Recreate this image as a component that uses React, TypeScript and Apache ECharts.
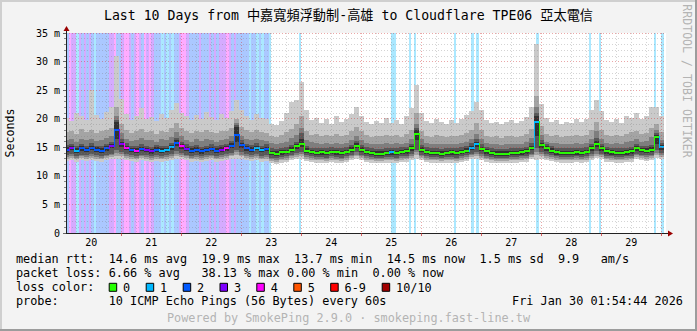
import React, { useEffect, useRef } from 'react';
import * as echarts from 'echarts';

// ---- time axis (hours since Jan 20 00:00) ----
const START_HOUR = 1.912; // Jan 20 01:54:44
const END_HOUR = 241.912; // Jan 30 01:54:44
const dayLabels = ['20', '21', '22', '23', '24', '25', '26', '27', '28', '29'];
const yTickLabels = ['0', '5 m', '10 m', '15 m', '20 m', '25 m', '30 m', '35 m'];

// sample times: every 2 hours (t = 2 .. 240)
const sampleHours: number[] = [];
for (let k = 1; k <= 120; k++) sampleHours.push(2 * k);

// ---- median rtt (ms) ----
const median = [
  14.6, 14.9, 14.4, 14.8, 14.5, 14.9, 14.6, 14.4, 14.8, 15.3, 18.0,
  15.6, 14.9, 14.6, 14.4, 14.7, 14.5, 14.3, 14.6, 14.4, 14.5, 15.0, 15.8,
  15.2, 14.7, 14.4, 14.6, 14.3, 14.5, 14.7, 14.4, 14.6, 14.8, 15.3, 17.2,
  15.4, 14.8, 14.6, 14.9, 14.5, 14.7, 14.0, 13.9, 14.1, 14.2, 14.6, 15.2,
  15.6, 14.4, 14.2, 14.0, 14.1, 14.0, 14.2, 14.1, 14.0, 14.2, 14.6, 15.3,
  14.6, 14.2, 14.0, 13.9, 13.9, 14.0, 14.1, 14.0, 14.2, 14.3, 14.8, 17.4,
  14.6, 14.2, 14.0, 14.0, 13.9, 14.0, 14.1, 14.0, 14.2, 14.4, 14.9, 15.5,
  14.7, 14.3, 14.0, 13.9, 13.9, 13.9, 14.0, 14.0, 14.1, 14.3, 14.9, 19.5,
  15.4, 14.8, 14.4, 14.1, 14.0, 14.0, 14.0, 14.1, 14.0, 14.2, 14.8, 15.6,
  14.8, 14.3, 14.1, 14.0, 14.0, 14.1, 14.3, 14.8, 14.5, 14.4, 14.6, 16.8,
  15.0,
];

// ---- smoke: sorted pings 1..10 (ms) ----
const ping10 = [
  20.2, 19.6, 21.0, 20.4, 19.8, 25.0, 20.6, 19.9, 21.2, 22.0, 31.0,
  23.5, 20.8, 19.7, 20.5, 21.8, 19.9, 20.3, 19.6, 20.9, 20.2, 21.5, 22.7,
  21.0, 20.4, 19.8, 20.6, 19.9, 21.2, 20.3, 19.7, 20.8, 20.1, 21.4, 23.3,
  21.6, 20.5, 19.8, 20.9, 20.2, 19.9, 19.0, 18.9, 19.6, 21.0, 23.0, 23.3,
  26.5, 21.5, 19.8, 20.2, 19.3, 19.9, 19.1, 20.4, 19.5, 20.0, 20.8, 22.1,
  20.5, 19.4, 19.0, 19.6, 19.2, 20.1, 19.3, 19.8, 19.0, 20.4, 21.8, 25.9,
  21.0, 19.6, 19.2, 20.0, 19.4, 19.0, 19.7, 19.3, 19.9, 20.6, 21.3, 23.0,
  21.6, 19.8, 19.2, 19.5, 19.0, 19.4, 19.8, 19.2, 19.6, 20.3, 22.0, 33.0,
  22.5, 20.1, 19.4, 19.7, 19.1, 19.5, 19.2, 19.9, 19.4, 20.0, 21.5, 23.3,
  21.3, 19.7, 19.4, 19.9, 19.3, 20.5, 20.2, 21.0, 20.0, 20.4, 22.0, 22.1,
  20.5,
];
const ping9 = [
  17.6, 17.9, 17.4, 18.2, 17.7, 18.0, 17.5, 17.8, 18.1, 18.4, 22.0,
  19.0, 18.0, 17.5, 17.9, 18.2, 17.6, 17.8, 17.4, 17.9, 17.7, 18.3, 19.2,
  18.4, 17.8, 17.5, 17.9, 17.6, 18.1, 17.7, 17.5, 17.9, 17.8, 18.4, 20.0,
  18.6, 18.0, 17.6, 18.0, 17.7, 17.5, 17.0, 16.8, 17.2, 17.6, 18.2, 19.0,
  20.5, 17.8, 17.2, 17.3, 17.0, 17.2, 16.9, 17.3, 17.0, 17.2, 17.8, 18.6,
  17.8, 17.1, 16.8, 17.0, 16.9, 17.2, 16.9, 17.1, 16.8, 17.3, 18.0, 21.0,
  17.9, 17.0, 16.8, 17.1, 16.9, 16.8, 17.0, 16.9, 17.1, 17.5, 18.0, 19.2,
  18.0, 17.0, 16.8, 16.9, 16.7, 16.9, 17.0, 16.8, 17.0, 17.3, 18.2, 24.0,
  18.8, 17.4, 17.0, 17.1, 16.8, 17.0, 16.9, 17.1, 16.9, 17.2, 18.0, 19.5,
  18.0, 17.2, 17.0, 17.2, 16.9, 17.4, 17.6, 17.8, 17.3, 17.5, 18.3, 19.0,
  17.6,
];
const ping8 = [
  16.2, 16.4, 16.0, 16.5, 16.2, 16.5, 16.1, 16.3, 16.6, 16.9, 20.5,
  17.5, 16.5, 16.1, 16.3, 16.6, 16.2, 16.3, 16.0, 16.4, 16.2, 16.8, 17.6,
  16.9, 16.3, 16.0, 16.4, 16.1, 16.5, 16.2, 16.0, 16.3, 16.4, 16.9, 19.3,
  17.0, 16.5, 16.2, 16.5, 16.2, 16.1, 15.7, 15.5, 15.8, 16.0, 16.6, 17.2,
  18.4, 16.3, 15.9, 15.8, 15.6, 15.8, 15.6, 15.8, 15.6, 15.8, 16.3, 17.0,
  16.3, 15.8, 15.5, 15.6, 15.5, 15.7, 15.6, 15.7, 15.5, 15.8, 16.4, 19.0,
  16.4, 15.7, 15.5, 15.6, 15.5, 15.5, 15.6, 15.5, 15.7, 16.0, 16.5, 17.4,
  16.5, 15.7, 15.5, 15.5, 15.4, 15.5, 15.6, 15.5, 15.6, 15.9, 16.6, 22.0,
  17.2, 16.0, 15.7, 15.7, 15.5, 15.6, 15.5, 15.7, 15.5, 15.8, 16.5, 17.8,
  16.5, 15.8, 15.6, 15.7, 15.5, 15.9, 16.1, 16.4, 16.0, 16.1, 16.8, 18.0,
  16.3,
];
const ping7 = [
  15.4, 15.6, 15.2, 15.6, 15.3, 15.7, 15.3, 15.2, 15.6, 16.0, 19.8,
  16.5, 15.7, 15.3, 15.2, 15.5, 15.3, 15.1, 15.4, 15.2, 15.3, 15.8, 16.7,
  16.0, 15.5, 15.2, 15.4, 15.1, 15.3, 15.5, 15.2, 15.4, 15.6, 16.1, 18.9,
  16.2, 15.6, 15.4, 15.7, 15.3, 15.5, 14.8, 14.7, 14.9, 15.0, 15.4, 16.0,
  17.5, 15.2, 14.9, 14.8, 14.9, 14.8, 15.0, 14.9, 14.8, 15.0, 15.4, 16.1,
  15.4, 15.0, 14.8, 14.7, 14.7, 14.8, 14.9, 14.8, 15.0, 15.1, 15.6, 18.4,
  15.4, 15.0, 14.8, 14.8, 14.7, 14.8, 14.9, 14.8, 15.0, 15.2, 15.7, 16.4,
  15.5, 15.1, 14.8, 14.7, 14.7, 14.7, 14.8, 14.8, 14.9, 15.1, 15.7, 21.0,
  16.3, 15.6, 15.2, 14.9, 14.8, 14.8, 14.8, 14.9, 14.8, 15.0, 15.6, 16.6,
  15.6, 15.1, 14.9, 14.8, 14.8, 14.9, 15.1, 15.6, 15.3, 15.2, 15.4, 17.5,
  15.7,
];
const ping6 = [
  15.0, 15.3, 14.8, 15.2, 14.9, 15.3, 15.0, 14.8, 15.2, 15.6, 19.5,
  16.0, 15.3, 14.9, 14.8, 15.1, 14.9, 14.7, 15.0, 14.8, 14.9, 15.4, 16.2,
  15.6, 15.1, 14.8, 15.0, 14.7, 14.9, 15.1, 14.8, 15.0, 15.2, 15.7, 18.5,
  15.8, 15.2, 15.0, 15.3, 14.9, 15.1, 14.4, 14.3, 14.5, 14.6, 15.0, 15.6,
  16.5, 14.8, 14.6, 14.4, 14.5, 14.4, 14.6, 14.5, 14.4, 14.6, 15.0, 15.7,
  15.0, 14.6, 14.4, 14.3, 14.3, 14.4, 14.5, 14.4, 14.6, 14.7, 15.2, 18.0,
  15.0, 14.6, 14.4, 14.4, 14.3, 14.4, 14.5, 14.4, 14.6, 14.8, 15.3, 16.0,
  15.1, 14.7, 14.4, 14.3, 14.3, 14.3, 14.4, 14.4, 14.5, 14.7, 15.3, 20.5,
  15.8, 15.2, 14.8, 14.5, 14.4, 14.4, 14.4, 14.5, 14.4, 14.6, 15.2, 16.1,
  15.2, 14.7, 14.5, 14.4, 14.4, 14.5, 14.7, 15.2, 14.9, 14.8, 15.0, 17.2,
  15.4,
];
const ping5 = [
  14.2, 14.5, 14.0, 14.4, 14.1, 14.5, 14.2, 14.0, 14.4, 14.8, 16.5,
  15.0, 14.5, 14.2, 14.0, 14.3, 14.1, 13.9, 14.2, 14.0, 14.1, 14.6, 15.2,
  14.7, 14.3, 14.0, 14.2, 13.9, 14.1, 14.3, 14.0, 14.2, 14.4, 14.8, 16.0,
  14.9, 14.4, 14.2, 14.5, 14.1, 14.3, 13.6, 13.5, 13.7, 13.8, 14.2, 14.7,
  15.0, 14.0, 13.8, 13.6, 13.7, 13.6, 13.8, 13.7, 13.6, 13.8, 14.2, 14.8,
  14.2, 13.8, 13.6, 13.5, 13.5, 13.6, 13.7, 13.6, 13.8, 13.9, 14.4, 16.2,
  14.2, 13.8, 13.6, 13.6, 13.5, 13.6, 13.7, 13.6, 13.8, 14.0, 14.5, 15.0,
  14.3, 13.9, 13.6, 13.5, 13.5, 13.5, 13.6, 13.6, 13.7, 13.9, 14.5, 17.0,
  14.9, 14.4, 14.0, 13.7, 13.6, 13.6, 13.6, 13.7, 13.6, 13.8, 14.4, 15.1,
  14.4, 13.9, 13.7, 13.6, 13.6, 13.7, 13.9, 14.4, 14.1, 14.0, 14.2, 15.5,
  14.6,
];
const ping4 = [
  13.6, 13.8, 13.5, 13.7, 13.6, 13.8, 13.6, 13.5, 13.7, 13.9, 14.5,
  14.2, 13.8, 13.6, 13.5, 13.7, 13.6, 13.4, 13.6, 13.5, 13.6, 13.9, 14.3,
  14.0, 13.7, 13.5, 13.6, 13.4, 13.6, 13.7, 13.5, 13.6, 13.8, 14.0, 14.6,
  14.1, 13.8, 13.6, 13.8, 13.5, 13.6, 13.2, 13.1, 13.3, 13.4, 13.7, 14.0,
  14.2, 13.6, 13.4, 13.3, 13.3, 13.2, 13.4, 13.3, 13.2, 13.4, 13.7, 14.1,
  13.7, 13.4, 13.3, 13.2, 13.2, 13.3, 13.3, 13.2, 13.4, 13.5, 13.8, 14.6,
  13.7, 13.4, 13.3, 13.3, 13.2, 13.3, 13.3, 13.2, 13.4, 13.6, 13.9, 14.2,
  13.8, 13.5, 13.3, 13.2, 13.2, 13.2, 13.3, 13.3, 13.4, 13.5, 13.9, 14.8,
  14.2, 13.9, 13.6, 13.4, 13.3, 13.3, 13.3, 13.4, 13.3, 13.4, 13.8, 14.3,
  13.9, 13.5, 13.4, 13.3, 13.3, 13.4, 13.5, 13.9, 13.7, 13.6, 13.7, 14.5,
  14.0,
];
const ping3 = [
  13.3, 13.5, 13.2, 13.4, 13.3, 13.5, 13.3, 13.2, 13.4, 13.6, 14.0,
  13.8, 13.5, 13.3, 13.2, 13.4, 13.3, 13.1, 13.3, 13.2, 13.3, 13.5, 13.9,
  13.6, 13.4, 13.2, 13.3, 13.1, 13.3, 13.4, 13.2, 13.3, 13.5, 13.7, 14.1,
  13.7, 13.5, 13.3, 13.5, 13.2, 13.3, 12.9, 12.8, 13.0, 13.1, 13.4, 13.6,
  13.8, 13.3, 13.1, 13.0, 13.0, 12.9, 13.1, 13.0, 12.9, 13.1, 13.4, 13.7,
  13.4, 13.1, 13.0, 12.9, 12.9, 13.0, 13.0, 12.9, 13.1, 13.2, 13.5, 14.1,
  13.4, 13.1, 13.0, 13.0, 12.9, 13.0, 13.0, 12.9, 13.1, 13.3, 13.6, 13.8,
  13.5, 13.2, 13.0, 12.9, 12.9, 12.9, 13.0, 13.0, 13.1, 13.2, 13.6, 14.2,
  13.8, 13.5, 13.3, 13.1, 13.0, 13.0, 13.0, 13.1, 13.0, 13.1, 13.5, 13.9,
  13.6, 13.2, 13.1, 13.0, 13.0, 13.1, 13.2, 13.6, 13.4, 13.3, 13.4, 14.0,
  13.6,
];
const ping2 = [
  13.0, 13.2, 12.9, 13.1, 13.0, 13.2, 13.0, 12.9, 13.1, 13.3, 13.5,
  13.4, 13.2, 13.0, 12.9, 13.1, 13.0, 12.8, 13.0, 12.9, 13.0, 13.2, 13.5,
  13.3, 13.1, 12.9, 13.0, 12.8, 13.0, 13.1, 12.9, 13.0, 13.2, 13.4, 13.6,
  13.4, 13.2, 13.0, 13.2, 12.9, 13.0, 12.6, 12.5, 12.7, 12.8, 13.1, 13.3,
  13.4, 13.0, 12.8, 12.7, 12.7, 12.6, 12.8, 12.7, 12.6, 12.8, 13.1, 13.4,
  13.1, 12.8, 12.7, 12.6, 12.6, 12.7, 12.7, 12.6, 12.8, 12.9, 13.2, 13.6,
  13.1, 12.8, 12.7, 12.7, 12.6, 12.7, 12.7, 12.6, 12.8, 13.0, 13.3, 13.4,
  13.2, 12.9, 12.7, 12.6, 12.6, 12.6, 12.7, 12.7, 12.8, 12.9, 13.3, 13.6,
  13.4, 13.2, 13.0, 12.8, 12.7, 12.7, 12.7, 12.8, 12.7, 12.8, 13.2, 13.5,
  13.3, 12.9, 12.8, 12.7, 12.7, 12.8, 12.9, 13.3, 13.1, 13.0, 13.1, 13.6,
  13.3,
];
const ping1 = [
  12.6, 12.8, 12.5, 12.7, 12.6, 12.8, 12.6, 12.5, 12.7, 12.9, 13.0,
  13.0, 12.8, 12.6, 12.5, 12.7, 12.6, 12.4, 12.6, 12.5, 12.6, 12.8, 13.0,
  12.9, 12.7, 12.5, 12.6, 12.4, 12.6, 12.7, 12.5, 12.6, 12.8, 13.0, 12.9,
  13.0, 12.8, 12.6, 12.8, 12.5, 12.6, 12.2, 12.1, 12.3, 12.4, 12.7, 12.9,
  12.9, 12.6, 12.4, 12.3, 12.3, 12.2, 12.4, 12.3, 12.2, 12.4, 12.7, 13.0,
  12.7, 12.4, 12.3, 12.2, 12.2, 12.3, 12.3, 12.2, 12.4, 12.5, 12.8, 12.9,
  12.7, 12.4, 12.3, 12.3, 12.2, 12.3, 12.3, 12.2, 12.4, 12.6, 12.9, 13.0,
  12.8, 12.5, 12.3, 12.2, 12.2, 12.2, 12.3, 12.3, 12.4, 12.5, 12.9, 12.8,
  13.0, 12.8, 12.6, 12.4, 12.3, 12.3, 12.3, 12.4, 12.3, 12.4, 12.8, 13.1,
  12.9, 12.5, 12.4, 12.3, 12.3, 12.4, 12.5, 12.9, 12.7, 12.6, 12.7, 13.1,
  12.9,
];

// ---- lost pings out of 10, per hour (hour 0 = Jan 20 00:00) ----
const lossHourly = [
  0, 0, 2, 4, 3, 3, 1, 3, 2, 3, 2, 3, 2, 1, 2, 2, 2, 2, 2, 3, 3, 4, 2, 2,
  3, 4, 4, 3, 2, 3, 4, 3, 2, 4, 3, 4, 3, 2, 2, 2, 1, 2, 1, 2, 1, 2, 2, 3,
  4, 4, 3, 2, 2, 2, 2, 3, 2, 2, 2, 3, 2, 3, 2, 3, 3, 3, 4, 3, 2, 3, 2, 2,
  2, 2, 2, 1, 2, 2, 1, 2, 1, 2, 2, 1, 0, 0, 0, 0, 0, 0, 0, 0, 0, 0, 0, 1,
  0, 0, 0, 0, 0, 0, 0, 0, 0, 0, 0, 0, 0, 0, 0, 0, 0, 0, 0, 0, 0, 0, 0, 0,
  0, 0, 0, 0, 0, 0, 0, 0, 0, 0, 0, 0, 1, 1, 0, 0, 0, 0, 0, 1, 0, 1, 0, 0,
  0, 0, 0, 0, 0, 0, 0, 0, 0, 0, 0, 0, 0, 1, 0, 0, 0, 0, 0, 0, 1, 0, 1, 0,
  0, 0, 0, 0, 0, 0, 0, 0, 0, 0, 0, 0, 0, 0, 0, 0, 0, 0, 0, 0, 0, 0, 1, 0,
  0, 0, 0, 0, 0, 0, 0, 0, 0, 0, 0, 0, 0, 0, 0, 0, 0, 0, 0, 1, 0, 0, 0, 1,
  0, 0, 0, 0, 0, 0, 0, 0, 0, 0, 0, 0, 0, 0, 0, 0, 0, 0, 0, 0, 0, 1, 0, 0,
  1, 0,
];

// ---- legend ----
const lossLegendLabels = ['0', '1', '2', '3', '4', '5', '6-9', '10/10'];
const lossLegendColors = ['#26ff00', '#00b8ff', '#0059ff', '#7e00ff', '#ff00ff', '#ff5500', '#ff0000', '#a10000'];
const rttStats = ['14.6 ms avg', '19.9 ms max', '13.7 ms min', '14.5 ms now', '1.5 ms sd', '9.9', 'am/s'];
const lossStats = ['6.66 % avg', '38.13 % max', '0.00 % min', '0.00 % now'];
const probeText = '10 ICMP Echo Pings (56 Bytes) every 60s';
const dateText = 'Fri Jan 30 01:54:44 2026';
const titleText = 'Last 10 Days from 中嘉寬頻浮動制-高雄 to Cloudflare TPE06 亞太電信';
const poweredText = 'Powered by SmokePing 2.9.0 · smokeping.fast-line.tw';

function lossColor(n: number): string {
  if (n <= 0) return lossLegendColors[0];
  if (n <= 5) return lossLegendColors[n];
  if (n <= 9) return lossLegendColors[6];
  return lossLegendColors[7];
}

const SMOKE = ['#cacaca', '#a4a4a4', '#7e7e7e', '#585858', '#323232'];
const MONO = '"DejaVu Sans Mono", monospace';
const CH = 7.13; // monospace legend column width
const LX = 16; // legend left edge
const col = (c: number) => LX + c * CH;

function buildOption(): any {
  const pings = [ping1, ping2, ping3, ping4, ping5, ping6, ping7, ping8, ping9, ping10];
  const smokeData = sampleHours.map((t, i) => [
    t, ...pings.map((p) => p[i]), median[i], lossHourly[t] ?? 0,
  ]);
  const lossData = lossHourly.map((l, h) => [h, l]).filter((d) => d[1] > 0);

  const noons = dayLabels.map((_, i) => i * 24 + 12);
  const midnights: number[] = [];
  const sixHours: number[] = [];
  for (let h = 6; h < END_HOUR; h += 6) {
    if (h % 24 === 0) midnights.push(h);
    else sixHours.push(h);
  }

  const majorGrid = { color: 'rgba(205,45,45,0.42)', type: [1, 2], width: 1 };
  const minorGrid = { color: 'rgba(120,120,120,0.32)', type: [1, 2], width: 1 };

  const txt = (x: number, y: number, text: string, o: any = {}) => ({
    type: 'text',
    x,
    y,
    rotation: o.rotation || 0,
    silent: true,
    z: 20,
    style: {
      text,
      fill: o.fill || '#000',
      font: `${o.size || 11.84}px ${o.family || MONO}`,
      textAlign: o.align || 'left',
      align: o.align || 'left',
      textVerticalAlign: 'middle',
      verticalAlign: 'middle',
    },
  });

  const graphics: any[] = [];
  // frame
  graphics.push({ type: 'rect', shape: { x: 0, y: 0, width: 697, height: 2 }, style: { fill: '#cfcfcf' }, silent: true, z: 20 });
  graphics.push({ type: 'rect', shape: { x: 0, y: 0, width: 2, height: 331 }, style: { fill: '#cfcfcf' }, silent: true, z: 20 });
  graphics.push({ type: 'rect', shape: { x: 0, y: 329, width: 697, height: 2 }, style: { fill: '#9c9c9c' }, silent: true, z: 20 });
  graphics.push({ type: 'rect', shape: { x: 695, y: 0, width: 2, height: 331 }, style: { fill: '#9c9c9c' }, silent: true, z: 20 });
  // axis arrows
  graphics.push({ type: 'line', shape: { x1: 66.5, y1: 33, x2: 66.5, y2: 30 }, style: { stroke: '#222', lineWidth: 1 }, silent: true, z: 20 });
  graphics.push({ type: 'polygon', shape: { points: [[63.5, 31], [69.5, 31], [66.5, 26]] }, style: { fill: '#9a0000' }, silent: true, z: 20 });
  graphics.push({ type: 'line', shape: { x1: 666, y1: 233.5, x2: 669, y2: 233.5 }, style: { stroke: '#222', lineWidth: 1 }, silent: true, z: 20 });
  graphics.push({ type: 'polygon', shape: { points: [[668, 230.5], [668, 236.5], [673, 233.5]] }, style: { fill: '#9a0000' }, silent: true, z: 20 });

  // title and side texts
  graphics.push(txt(348.5, 15, titleText, { align: 'center', size: 13.2, family: '"DejaVu Sans Mono", "Noto Sans CJK TC", monospace' }));
  graphics.push(txt(10, 133, 'Seconds', { align: 'center', rotation: Math.PI / 2, size: 11.6 }));
  graphics.push(txt(686.5, 81, 'RRDTOOL / TOBI OETIKER', { align: 'center', rotation: -Math.PI / 2, fill: '#b4b4b4', size: 11.6 }));

  // legend rows (monospace columns)
  const rttCols = [13, 26, 39, 52, 65, 76, 82];
  graphics.push(txt(col(0), 259, 'median rtt:'));
  rttStats.forEach((s, i) => graphics.push(txt(col(rttCols[i]), 259, s)));
  const lossCols = [13, 26, 38, 50];
  graphics.push(txt(col(0), 273.3, 'packet loss:'));
  lossStats.forEach((s, i) => graphics.push(txt(col(lossCols[i]), 273.3, s)));
  graphics.push(txt(col(0), 287.3, 'loss color:'));
  const boxX = [108.7, 145.7, 182.7, 219.5, 256.3, 293.3, 330.2, 381.7];
  lossLegendLabels.forEach((lab, i) => {
    graphics.push({
      type: 'rect',
      shape: { x: boxX[i] + 0.5, y: 283.3, width: 7.5, height: 8 },
      style: { fill: lossLegendColors[i], stroke: '#000', lineWidth: 1 },
      silent: true,
      z: 20,
    });
    graphics.push(txt(boxX[i] + 14.4, 287.5, lab));
  });
  graphics.push(txt(col(0), 301, 'probe:'));
  graphics.push(txt(col(13), 301, probeText));
  graphics.push(txt(683, 301, dateText, { align: 'right' }));
  graphics.push(txt(348.5, 317.7, poweredText, { align: 'center', fill: '#b4b4b4' }));

  return {
    animation: false,
    backgroundColor: '#f3f3f3',
    grid: { left: 66, right: 31, top: 33, bottom: 98, show: true, backgroundColor: '#ffffff', borderWidth: 0 },
    xAxis: [
      {
        type: 'value',
        min: START_HOUR,
        max: END_HOUR,
        position: 'bottom',
        z: 6,
        axisLine: { show: true, onZero: false, lineStyle: { color: '#222', width: 1 } },
        axisTick: { show: true, customValues: midnights, length: 3, lineStyle: { color: 'rgba(200,40,40,0.7)' } },
        axisLabel: {
          show: true,
          customValues: noons,
          margin: 4,
          fontFamily: MONO,
          fontSize: 10,
          color: '#000',
          formatter: (v: number) => dayLabels[Math.round((v - 12) / 24)] ?? '',
        },
        splitLine: { show: true, lineStyle: majorGrid },
      },
      {
        type: 'value',
        min: START_HOUR,
        max: END_HOUR,
        position: 'top',
        z: 5,
        axisLine: { show: false },
        axisLabel: { show: false },
        axisTick: { show: false, customValues: sixHours },
        splitLine: { show: true, lineStyle: minorGrid },
      },
    ],
    yAxis: {
      type: 'value',
      min: 0,
      max: 35,
      interval: 5,
      z: 6,
      axisLine: { show: true, lineStyle: { color: '#222', width: 1 } },
      axisTick: { show: true, length: 3, lineStyle: { color: '#666' } },
      minorTick: { show: true, splitNumber: 5, length: 2, lineStyle: { color: '#888' } },
      splitLine: { show: true, lineStyle: majorGrid },
      minorSplitLine: { show: true, lineStyle: minorGrid },
      axisLabel: {
        margin: 6,
        fontFamily: MONO,
        fontSize: 10,
        color: '#000',
        formatter: (v: number) => yTickLabels[Math.round(v / 5)] ?? '',
      },
    },
    series: [
      {
        type: 'custom',
        name: 'loss',
        xAxisIndex: 0,
        yAxisIndex: 0,
        z: 1,
        clip: true,
        silent: true,
        data: lossData,
        renderItem: (_params: any, api: any) => {
          const h = api.value(0);
          const l = api.value(1);
          const x0 = Math.round(api.coord([h, 0])[0]);
          const x1 = Math.round(api.coord([h + 1, 0])[0]);
          const yTop = Math.round(api.coord([h, 35])[1]);
          const yBot = Math.round(api.coord([h, 0])[1]);
          return {
            type: 'rect',
            shape: { x: x0, y: yTop, width: x1 - x0, height: yBot - yTop },
            style: { fill: lossColor(l), opacity: 0.33 },
          };
        },
      },
      {
        type: 'custom',
        name: 'smoke',
        xAxisIndex: 0,
        yAxisIndex: 0,
        z: 2,
        clip: true,
        silent: true,
        data: smokeData,
        encode: { x: 0, y: 11 },
        renderItem: (params: any, api: any) => {
          const i = params.dataIndex;
          const t = api.value(0);
          const x0 = Math.round(api.coord([t - 1, 0])[0]);
          const x1 = Math.round(api.coord([t + 1, 0])[0]);
          const w = x1 - x0;
          const children: any[] = [];
          for (let b = 0; b < 5; b++) {
            const lo = api.value(1 + b);
            const hi = api.value(10 - b);
            const yTop = Math.round(api.coord([t, hi])[1]);
            const yBot = Math.round(api.coord([t, lo])[1]);
            children.push({
              type: 'rect',
              shape: { x: x0, y: yTop, width: w, height: Math.max(0, yBot - yTop) },
              style: { fill: SMOKE[b] },
            });
          }
          const med = api.value(11);
          const color = lossColor(api.value(12));
          const ym = Math.round(api.coord([t, med])[1]);
          children.push({ type: 'rect', shape: { x: x0, y: ym - 1, width: w, height: 2 }, style: { fill: color } });
          if (i > 0) {
            const yp = Math.round(api.coord([t, median[i - 1]])[1]);
            const top = Math.min(yp, ym) - 1;
            const bot = Math.max(yp, ym) + 1;
            children.push({ type: 'rect', shape: { x: x0, y: top, width: 1, height: bot - top }, style: { fill: color } });
          }
          return { type: 'group', children };
        },
      },
    ],
    graphic: { elements: graphics },
  };
}

export default function App() {
  const ref = useRef<HTMLDivElement>(null);
  useEffect(() => {
    if (!ref.current) return;
    const chart = echarts.init(ref.current, undefined, { renderer: 'svg', width: 697, height: 331 });
    chart.setOption(buildOption());
    return () => chart.dispose();
  }, []);
  return <div ref={ref} style={{ position: 'fixed', left: 0, top: 0, width: 697, height: 331 }} />;
}
